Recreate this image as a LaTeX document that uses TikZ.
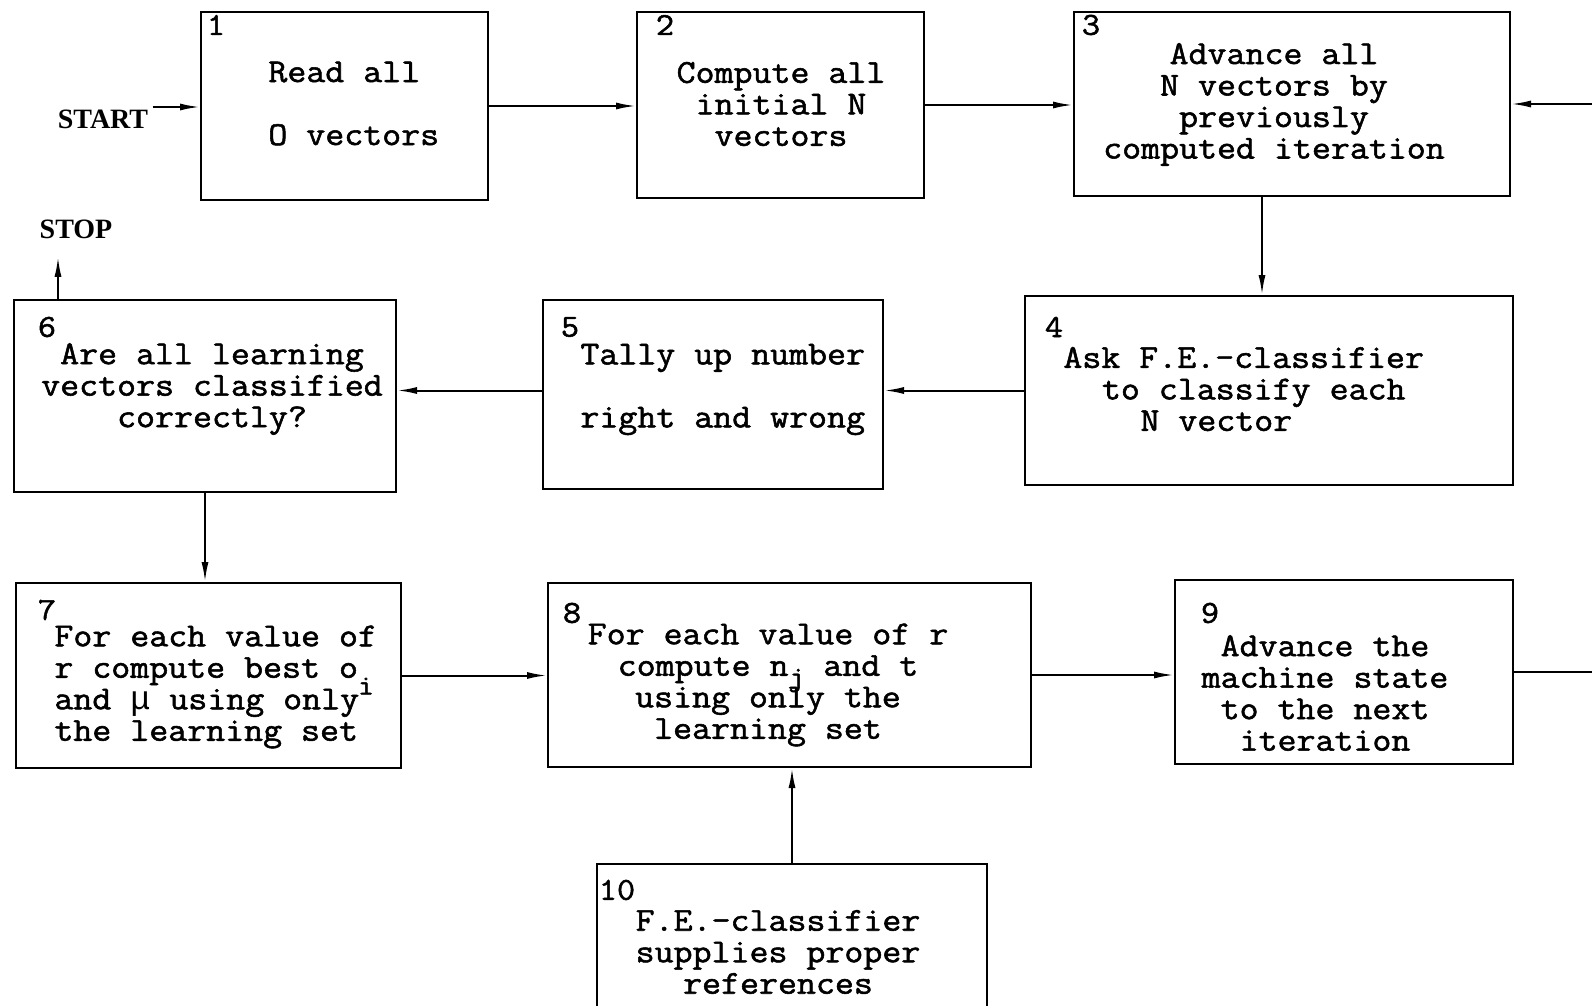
\documentclass[tikz,border=0pt]{standalone}
\usepackage{fontspec}
\newfontfamily\typewr[FakeBold=1.6,FakeStretch=1.1]{Latin Modern Mono}
\newfontfamily\mufont{Liberation Mono}
\newfontfamily\serifb{Liberation Serif}
\newcommand\lowsub[2]{\raisebox{#1}[0pt][0pt]{\fontsize{14pt}{14pt}\selectfont #2}}
\usetikzlibrary{arrows.meta}

\begin{document}
\begin{tikzpicture}[x=0.5pt,y=-0.5pt,
blk/.style={draw, line width=1pt, inner sep=0pt},
txt/.style={font={\typewr\fontsize{16.75pt}{15.75pt}\selectfont}, inner sep=0pt, align=center},
num/.style={font={\typewr\fontsize{16pt}{16pt}\selectfont}, inner sep=0pt},
term/.style={font={\serifb\bfseries\fontsize{14pt}{14pt}\selectfont}, inner sep=2pt},
arr/.style={line width=1pt, -{Latex[length=10pt,width=3.5pt]}}
]
\clip (0,0) rectangle (1592,1006);
\fill[white] (0,0) rectangle (1592,1006);

% the ten boxes
\node[blk, minimum width=143.5pt, minimum height=94pt] (b1) at (344.5,106) {};
\node[blk, minimum width=143.5pt, minimum height=93pt] (b2) at (780.5,105) {};
\node[blk, minimum width=218pt, minimum height=92pt] (b3) at (1292,104) {};
\node[blk, minimum width=244pt, minimum height=94.5pt] (b4) at (1269,390.5) {};
\node[blk, minimum width=170pt, minimum height=94.5pt] (b5) at (713,394.5) {};
\node[blk, minimum width=191pt, minimum height=96pt] (b6) at (205,396) {};
\node[blk, minimum width=192.5pt, minimum height=92.5pt] (b7) at (208.5,675.5) {};
\node[blk, minimum width=241.5pt, minimum height=92pt] (b8) at (789.5,675) {};
\node[blk, minimum width=169pt, minimum height=92pt] (b9) at (1344,672) {};
\node[blk, minimum width=195pt, minimum height=98pt] (b10) at (792,962) {};

% numbers
\node[num] (n1) at (216,25) {1};
\node[num] (n2) at (665,25) {2};
\node[num] (n3) at (1091,25) {3};
\node[num] (n4) at (1054,327) {4};
\node[num] (n5) at (570,327) {5};
\node[num] (n6) at (47,327) {6};
\node[num] (n7) at (47,610) {7};
\node[num] (n8) at (572,613) {8};
\node[num] (n9) at (1210,613) {9};
\node[num] (n10) at (617,890) {10};

% texts
\node[txt, align=left, anchor=west] (t1) at (268,103.5) {Read all\\[15.75pt]O vectors};
\node[txt] (t2) at (781,104) {Compute all\\initial N\\vectors};
\node[txt] (t3) at (1274,104.5) {Advance all\\N vectors by\\previously\\computed iteration};
\node[txt, align=left, anchor=west] (t4) at (1063,389) {Ask F.E.-classifier\\\hspace*{1.15em}to classify each\\\hspace*{2.3em}N vector};
\node[txt, align=left, anchor=west] (t5) at (580,389.5) {Tally up number\\[15.75pt]right and wrong};
\node[txt] (t6) at (212,389) {Are all learning\\vectors classified\\correctly?};
\node[txt, align=left, anchor=west] (t7) at (54,687) {For each value of\\r compute best o\lowsub{-0.5em}{i}\\and {\mufont μ} using only\\the learning set};
\node[txt] (t8) at (768,685) {For each value of r\\compute n\lowsub{-0.3em}{j} and t\\using only the\\learning set};
\node[txt] (t9) at (1325,693) {Advance the\\machine state\\to the next\\iteration};
\node[txt] (t10) at (778,952) {F.E.-classifier\\supplies proper\\references};

% start and stop
\node[term] (start) at (103,119) {START};
\node[term] (stop) at (76,229) {STOP};
\coordinate (loopin) at (1592,104);
\coordinate (loopout) at (1592,672);

% connectors
\draw[arr] ([yshift=6pt]start.east) -- ([yshift=6pt]start.east -| b1.west);
\draw[arr] (b1.east) -- (b1.east -| b2.west);
\draw[arr] (b2.east) -- (b2.east -| b3.west);
\draw[arr] (loopin) -- (b3.east);
\draw[arr] ([xshift=-15pt]b3.south) -- ([xshift=-15pt]b3.south |- b4.north);
\draw[arr] (b4.west) -- (b4.west -| b5.east);
\draw[arr] (b4.west -| b5.west) -- (b4.west -| b6.east);
\draw[arr, shorten >=7pt] ([xshift=22.5pt]b6.north west) -- ([xshift=22.5pt]b6.north west |- stop.south);
\draw[arr] (b6.south) -- (b6.south |- b7.north);
\draw[arr] (b7.east) -- (b7.east -| b8.west);
\draw[arr] (b8.east) -- (b8.east -| b9.west);
\draw[line width=1pt] (b9.east) -- (loopout);
\draw[arr] (b10.north) -- (b10.north |- b8.south);
\end{tikzpicture}
\end{document}
